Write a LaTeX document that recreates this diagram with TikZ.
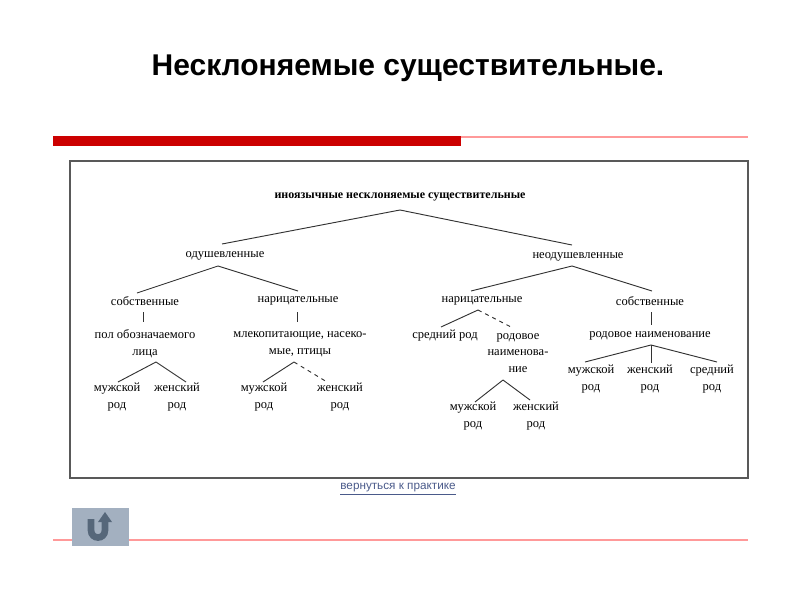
\documentclass[tikz,border=0pt]{standalone}
\usepackage{fontspec}
\setmainfont{Liberation Serif}
\newfontfamily\titlefont{Liberation Sans}
\definecolor{btnbg}{HTML}{A3B0C0}
\definecolor{btnfg}{HTML}{56677A}
\definecolor{linkc}{HTML}{4A5A8A}
\begin{document}
\begin{tikzpicture}[x=0.75pt,y=-0.75pt,
 t/.style={font=\fontsize{9.4}{12.6}\selectfont,align=center,inner sep=0},
 ln/.style={line width=0.7pt,black!80}]
\useasboundingbox (0,0) rectangle (800,600);
\node[font=\titlefont\bfseries\fontsize{22.5}{26}\selectfont] (title) at (408,68) {Несклоняемые существительные.};
\fill[red!80!black] (53,136) rectangle (461,146);
\draw[red!40,line width=0.8pt] (461,137) -- (748,137);
\draw[red!40,line width=0.8pt] (53,540) -- (748,540);
\draw[gray!70!black,line width=0.9pt] (70,161) rectangle (748,478);
\node[t,font=\bfseries\fontsize{9}{10}\selectfont] (root) at (400,197) {иноязычные несклоняемые существительные};
\node[t] (od) at (225,256) {одушевленные};
\node[t] (neod) at (578,257) {неодушевленные};
\node[t] (s1) at (145,301) {собственные};
\node[t] (n1) at (298,301) {нарицательные};
\node[t] (pol) at (145,344) {пол обозначаемого\\лица};
\node[t] (mlek) at (300,344) {млекопитающие, насеко-\\мые, птицы};
\node[t] (m1) at (117,397) {мужской\\род};
\node[t] (f1) at (177,397) {женский\\род};
\node[t] (m2) at (264,397) {мужской\\род};
\node[t] (f2) at (340,397) {женский\\род};
\node[t] (n2) at (482,301) {нарицательные};
\node[t] (s2) at (650,301) {собственные};
\node[t] (sr) at (445,336) {средний род};
\node[t] (rod) at (518,353) {родовое\\наименова-\\ние};
\node[t] (m3) at (473,416) {мужской\\род};
\node[t] (f3) at (536,416) {женский\\род};
\node[t] (rn) at (650,336) {родовое наименование};
\node[t] (m4) at (591,379) {мужской\\род};
\node[t] (f4) at (650,379) {женский\\род};
\node[t] (n4) at (712,379) {средний\\род};
\coordinate (r0) at (400,210);
\draw[ln] (r0) -- (222,244); \draw[ln] (r0) -- (572,245);
\draw[ln] (218,266) -- (137,293); \draw[ln] (218,266) -- (298,291);
\draw[ln] (s1) ++(-2,11) -- ++(0,10);
\draw[ln] (n1) ++(-1,11) -- ++(0,10);
\draw[ln] (156,362) -- (118,382); \draw[ln] (156,362) -- (186,382);
\draw[ln] (294,362) -- (263,382); \draw[ln,dashed] (294,362) -- (327,382);
\draw[ln] (572,266) -- (471,291); \draw[ln] (572,266) -- (652,291);
\draw[ln] (478,310) -- (441,327); \draw[ln,dashed] (478,310) -- (511,327);
\draw[ln] (503,380) -- (475,402); \draw[ln] (503,380) -- (530,400);
\draw[ln] (651,312) -- (651,325);
\draw[ln] (651,345) -- (585,362); \draw[ln] (651,345) -- (651,363); \draw[ln] (651,345) -- (717,362);
\node[font=\titlefont\fontsize{8.8}{10}\selectfont,text=linkc,inner sep=1pt] (link) at (398,489) {\underline{вернуться к практике}};
\fill[btnbg] (72,508) rectangle (129,546);
\node[inner sep=0] (btn) at (100,527) {};
\draw[line width=5pt,color=btnfg] (91,519) -- (91,530) .. controls (91,540) and (105,540) .. (105,530) -- (105,521);
\fill[btnfg] (98,522) -- (105,512) -- (112,522) -- cycle;
\end{tikzpicture}
\end{document}
